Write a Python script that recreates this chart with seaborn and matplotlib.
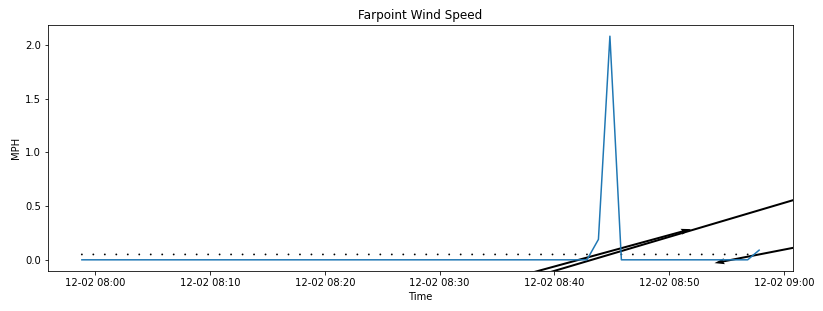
import numpy as np
import pandas as pd
import matplotlib
matplotlib.use("Agg")
import matplotlib.pyplot as plt
import matplotlib.dates as mdates
import seaborn as sns

# ---- data ----
start_time = "2023-12-02 07:58:50"
n_points = 60
times = pd.date_range(start_time, periods=n_points, freq="1min")

wind_speed = [0.0] * 44 + [0.0, 0.19, 2.08, 0.0] + [0.0] * 10 + [0.0, 0.09]
wind_speed = wind_speed[:n_points]
# direction the arrow points (degrees, counter-clockwise from +x)
wind_dir = [0.0] * 45 + [15.3, 16.5] + [0.0] * 12 + [191.0]

title = "Farpoint Wind Speed"
xlabel = "Time"
ylabel = "MPH"

df = pd.DataFrame({"Time": times, "MPH": wind_speed})

# ---- figure ----
W, H, DPI = 823, 311, 72
fig, ax = plt.subplots(figsize=(W / DPI, H / DPI), dpi=DPI)
fig.subplots_adjust(left=48 / W, right=793 / W, top=1 - 25 / H, bottom=1 - 271 / H)

sns.lineplot(data=df, x="Time", y="MPH", ax=ax, color="#1f77b4", linewidth=1.5)

spd = np.asarray(wind_speed)
th = np.deg2rad(np.asarray(wind_dir))
u = spd * np.cos(th)
v = spd * np.sin(th)
xq = mdates.date2num(times.to_pydatetime())
yq = np.full(n_points, 0.05)
ax.quiver(xq, yq, u, v, pivot="middle", color="black",
          scale_units="width", scale=0.737, units="width", width=0.0027)

ax.xaxis.set_major_locator(mdates.MinuteLocator(byminute=range(0, 60, 10)))
ax.xaxis.set_major_formatter(mdates.DateFormatter("%m-%d %H:%M"))
ax.set_title(title, fontsize=12)
ax.set_xlabel(xlabel, fontsize=10)
ax.set_ylabel(ylabel, fontsize=10)
ax.tick_params(labelsize=10)

fig.savefig("out.png", dpi=DPI)
